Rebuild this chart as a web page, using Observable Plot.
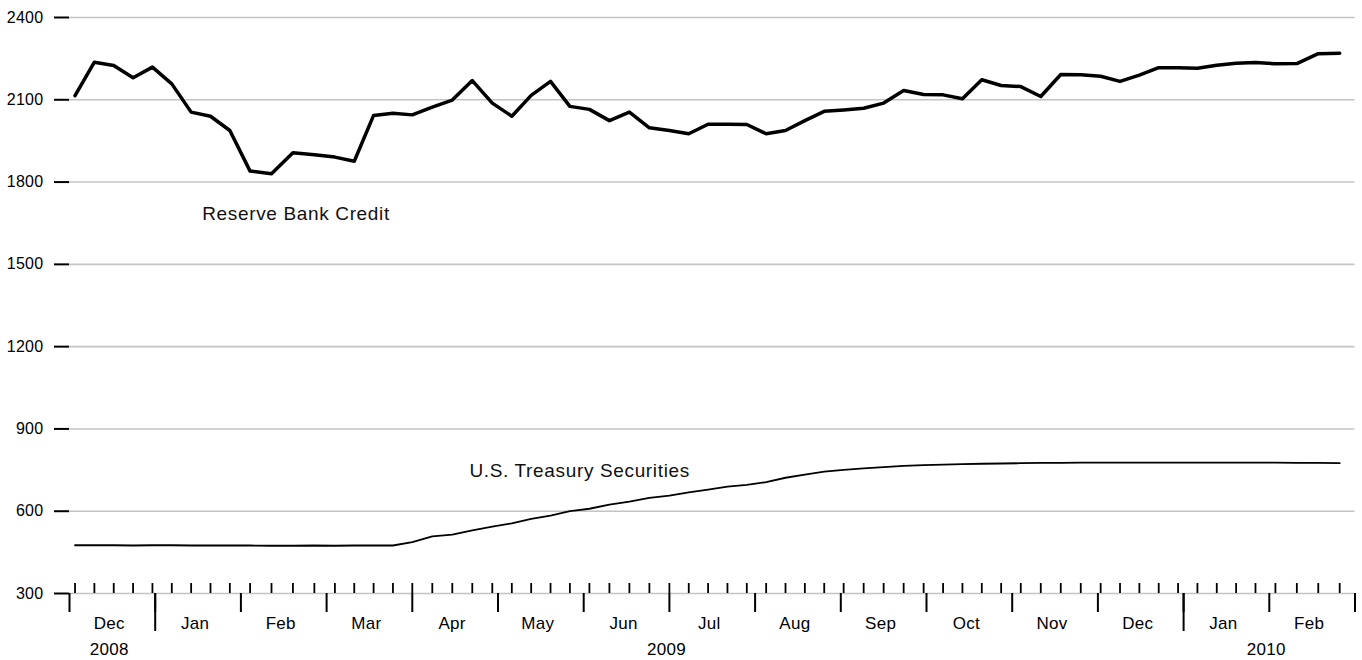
<!DOCTYPE html>
<html>
<head>
<meta charset="utf-8">
<script src="https://cdn.jsdelivr.net/npm/d3@7"></script>
<script src="https://cdn.jsdelivr.net/npm/@observablehq/plot@0.6"></script>
<style>
  html, body { margin: 0; padding: 0; background: #fff; }
  #chart svg { display: block; }
  .ann text { letter-spacing: 0.65px; }
  .ticklab text { letter-spacing: 0.3px; }
</style>
</head>
<body>
<div id="chart"></div>
<script>
// Weekly (Wednesday) observation dates
const weeks = [
  "2008-12-03","2008-12-10","2008-12-17","2008-12-24","2008-12-31",
  "2009-01-07","2009-01-14","2009-01-21","2009-01-28",
  "2009-02-04","2009-02-11","2009-02-18","2009-02-25",
  "2009-03-04","2009-03-11","2009-03-18","2009-03-25",
  "2009-04-01","2009-04-08","2009-04-15","2009-04-22","2009-04-29",
  "2009-05-06","2009-05-13","2009-05-20","2009-05-27",
  "2009-06-03","2009-06-10","2009-06-17","2009-06-24",
  "2009-07-01","2009-07-08","2009-07-15","2009-07-22","2009-07-29",
  "2009-08-05","2009-08-12","2009-08-19","2009-08-26",
  "2009-09-02","2009-09-09","2009-09-16","2009-09-23","2009-09-30",
  "2009-10-07","2009-10-14","2009-10-21","2009-10-28",
  "2009-11-04","2009-11-11","2009-11-18","2009-11-25",
  "2009-12-02","2009-12-09","2009-12-16","2009-12-23","2009-12-30",
  "2010-01-06","2010-01-13","2010-01-20","2010-01-27",
  "2010-02-03","2010-02-10","2010-02-17","2010-02-24"
];

// Reserve Bank Credit (billions of dollars)
const reserveBankCredit = [
  2115, 2237, 2225, 2180, 2219,
  2158, 2055, 2040, 1988,
  1840, 1830, 1907, 1900,
  1891, 1876, 2043, 2051,
  2045, 2073, 2099, 2170, 2088,
  2040, 2116, 2167, 2076,
  2065, 2024, 2055, 1998,
  1988, 1976, 2011, 2011, 2010,
  1976, 1988, 2024, 2058,
  2063, 2069, 2088, 2134, 2119,
  2118, 2104, 2173, 2152,
  2148, 2112, 2192, 2191,
  2186, 2167, 2190, 2217, 2217,
  2215, 2226, 2233, 2236,
  2231, 2232, 2268, 2270
];

// U.S. Treasury Securities (billions of dollars)
const treasurySecurities = [
  476, 476, 476, 475, 476,
  476, 475, 475, 475,
  475, 474, 474, 475,
  474, 475, 475, 475,
  487, 508, 515, 530, 544,
  556, 572, 584, 600,
  609, 624, 635, 649,
  657, 669, 679, 690, 696,
  706, 722, 733, 744,
  751, 756, 761, 765, 768,
  770, 772, 773, 774,
  775, 776, 776, 777,
  777, 777, 777, 777, 777,
  777, 777, 777, 777,
  777, 776, 776, 775
];

// Axis labels
const monthLabels = ["Dec","Jan","Feb","Mar","Apr","May","Jun","Jul","Aug","Sep","Oct","Nov","Dec","Jan","Feb"];
const yearLabels = ["2008","2009","2010"];
const yTicks = [300, 600, 900, 1200, 1500, 1800, 2100, 2400];

// Series labels (anchored at a date and value)
const seriesLabels = ["Reserve Bank Credit", "U.S. Treasury Securities"];
const seriesLabelDates = ["2009-01-18", "2009-04-21"];
const seriesLabelValues = [1685, 748];

// ---- derived ----
// Each month has equal width on this chart: position = month index + fraction of month.
const firstYear = 2008, firstMonth = 12;
function monthPos(s) {
  const [y, m, d] = s.split("-").map(Number);
  const dim = new Date(Date.UTC(y, m, 0)).getUTCDate();
  return (y - firstYear) * 12 + (m - firstMonth) + (d - 1) / dim;
}

const rows = weeks.map((w, i) => ({
  pos: monthPos(w),
  rbc: reserveBankCredit[i],
  ust: treasurySecurities[i]
}));
const weekPos = rows.map(r => r.pos);
const monthBounds = d3.range(monthLabels.length + 1);
const monthRows = monthLabels.map((m, i) => ({c: i + 0.5, label: m}));
const yearBounds = monthLabels.map((m, i) => m === "Jan" ? i : null).filter(v => v !== null);
const yearEdges = [0, ...yearBounds, monthLabels.length];
const yearRows = yearLabels.map((y, i) => ({c: (yearEdges[i] + yearEdges[i + 1]) / 2, label: y}));
const annotations = seriesLabels.map((t, i) => ({
  text: t, pos: monthPos(seriesLabelDates[i]), value: seriesLabelValues[i]
}));

const chart = Plot.plot({
  width: 1362,
  height: 660,
  marginLeft: 69,
  marginRight: 7.5,
  marginTop: 17,
  marginBottom: 67,
  x: {domain: [0, monthLabels.length], axis: null},
  y: {domain: [300, 2400], axis: null},
  style: {
    fontFamily: "'Liberation Sans', Arial, Helvetica, sans-serif",
    fontSize: "15px",
    color: "#000",
    background: "#fff"
  },
  marks: [
    Plot.gridY(yTicks, {stroke: "#c4c4c4", strokeOpacity: 1, strokeWidth: 1.6}),
    Plot.axisY(yTicks, {
      tickSize: 15, tickPadding: 11, strokeWidth: 2, fontSize: 16,
      tickFormat: d => String(d), label: null, className: "ticklab"
    }),
    Plot.axisX(weekPos, {tickSize: 10, dy: -10, strokeWidth: 1.8, tickFormat: () => "", label: null}),
    Plot.axisX(monthBounds, {tickSize: 19, strokeWidth: 2, tickFormat: () => "", label: null}),
    Plot.axisX(yearBounds, {tickSize: 38, strokeWidth: 2, tickFormat: () => "", label: null}),
    Plot.text(monthRows, {
      x: "c", text: "label", frameAnchor: "bottom", lineAnchor: "top",
      dy: 23, dx: -3, fontSize: 17, className: "ticklab"
    }),
    Plot.text(yearRows, {
      x: "c", text: "label", frameAnchor: "bottom", lineAnchor: "top",
      dy: 49, dx: -3, fontSize: 17, className: "ticklab"
    }),
    Plot.line(rows, {x: "pos", y: "ust", stroke: "#000", strokeWidth: 1.8}),
    Plot.line(rows, {x: "pos", y: "rbc", stroke: "#000", strokeWidth: 3.5}),
    Plot.text(annotations, {
      x: "pos", y: "value", text: "text", textAnchor: "start", fontSize: 19,
      fill: "#111", className: "ann"
    })
  ]
});
document.getElementById("chart").appendChild(chart);
</script>
</body>
</html>
